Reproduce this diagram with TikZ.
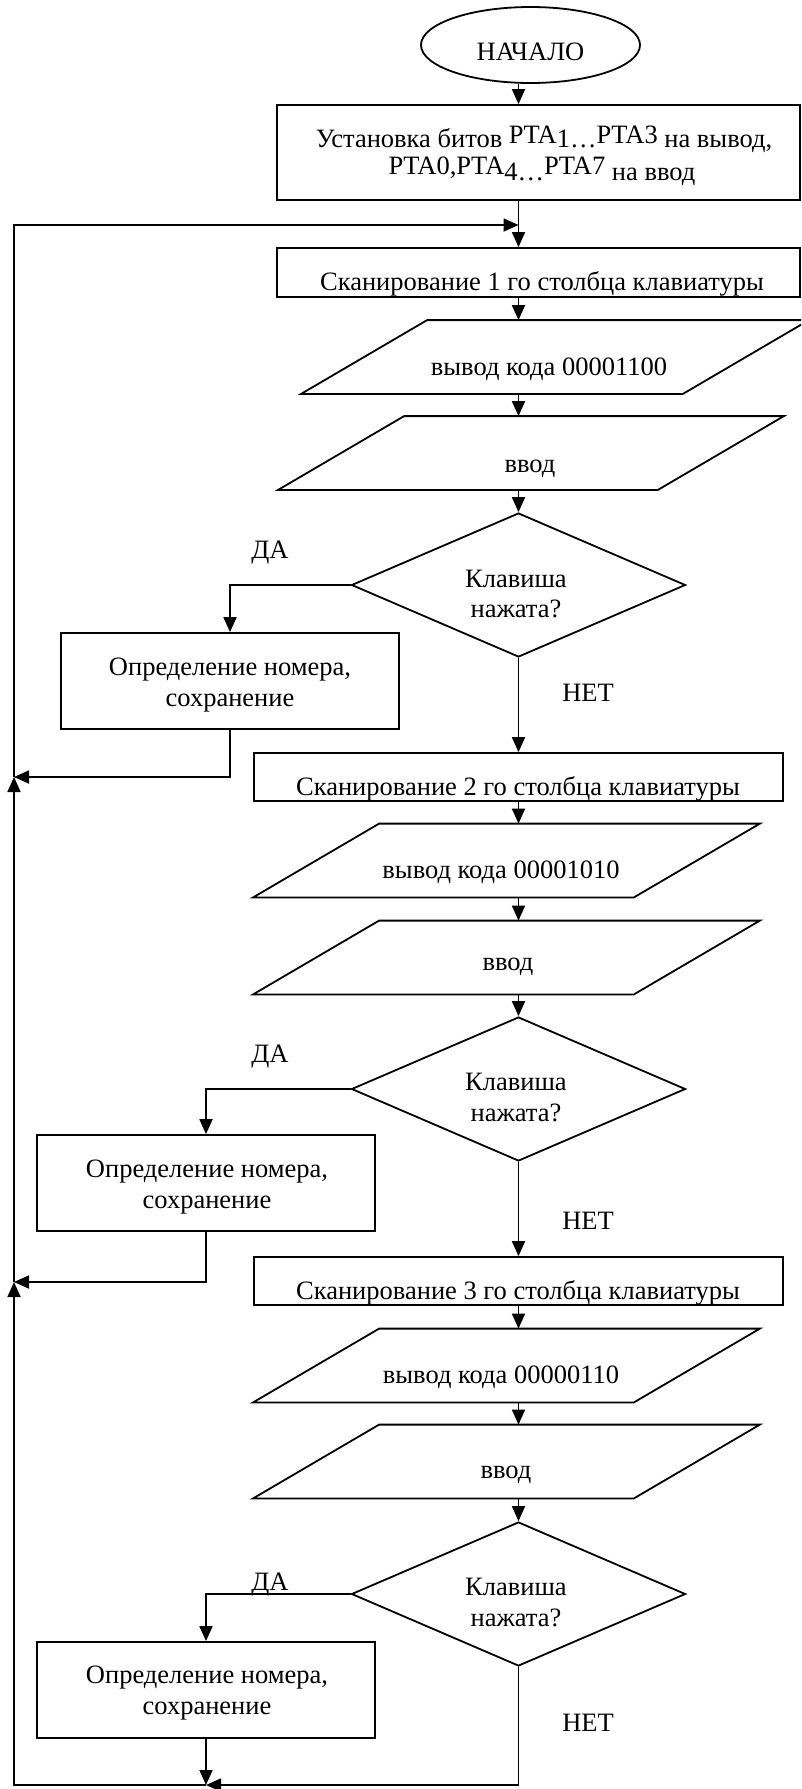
\documentclass[tikz,border=0pt]{standalone}
\usepackage{fontspec}
\setmainfont{Liberation Serif}
\usetikzlibrary{arrows.meta,shapes.geometric,calc}

\begin{document}
\begin{tikzpicture}[x=1pt,y=-1pt,
  line width=1.8pt,
  arr/.style={-{Triangle[length=15pt,width=13pt]}},
  blk/.style={draw, rectangle, inner sep=0pt},
  ell/.style={draw, ellipse, inner sep=0pt, minimum width=219pt, minimum height=76pt},
  dia/.style={draw, diamond, inner sep=0pt, minimum width=334pt, minimum height=144pt},
  io/.style={rectangle, inner sep=0pt, minimum height=72pt},
  txt/.style={anchor=base, inner sep=0pt, font=\fontsize{26.5}{31}\selectfont},
]
% page
\fill[white] (0,0) rectangle (801,1789);
\useasboundingbox (0,0) rectangle (801,1789);
\clip (0,0) rectangle (801,1789);

% main axis of the flow
\coordinate (ax) at (518.5,0);

% shapes
\node[ell] (start) at (530.5,45) {};
\node[blk, minimum width=523pt, minimum height=95pt] (init) at (538.5,152.5) {};
\node[blk, minimum width=523pt, minimum height=49pt] (s1) at (538.5,272.5) {};
\node[io, minimum width=506pt] (p1) at (555,357) {};
\node[io, minimum width=504pt] (p2) at (531,453) {};
\node[dia] (d1) at (518.5,585) {};
\node[blk, minimum width=338pt, minimum height=96pt] (o1) at (230,681) {};
\node[blk, minimum width=529pt, minimum height=48pt] (s2) at (518.5,777) {};
\node[io, minimum width=505pt] (p3) at (506.5,860.5) {};
\node[io, minimum width=505pt] (p4) at (506.5,957.5) {};
\node[dia] (d2) at (518.5,1089) {};
\node[blk, minimum width=338pt, minimum height=96pt] (o2) at (206,1183) {};
\node[blk, minimum width=529pt, minimum height=48pt] (s3) at (518.5,1281) {};
\node[io, minimum width=505pt] (p5) at (506.5,1365.5) {};
\node[io, minimum width=505pt] (p6) at (506.5,1461.5) {};
\node[dia] (d3) at (518.5,1594) {};
\node[blk, minimum width=338pt, minimum height=96pt] (o3) at (206,1690) {};

% input/output parallelograms
\foreach \n in {p1,p2,p3,p4,p5,p6}
  \draw ($(\n.north west)+(126,0)$) -- (\n.north east)
        -- ($(\n.south east)+(-126,0)$) -- (\n.south west) -- cycle;

% texts
\node[txt] (startT) at (530.5,60) {НАЧАЛО};
\node[txt] (initA) at (544,147) {Установка битов \raisebox{4pt}{PTA}1…\raisebox{4pt}{PTA3} на вывод,};
\node[txt] (initB) at (542,180) {\raisebox{6pt}{PTA0,PTA}4…\raisebox{6pt}{PTA7} на ввод};
\node[txt] (s1T) at (542,290) {Сканирование 1 го столбца клавиатуры};
\node[txt] (p1T) at (549,375) {вывод кода 00001100};
\node[txt] (p2T) at (530,472) {ввод};
\node[txt] (d1A) at (516,587) {Клавиша};
\node[txt] (d1B) at (516,617) {нажата?};
\node[txt] (yes1) at (270,558) {ДА};
\node[txt] (o1A) at (230,675) {Определение номера,};
\node[txt] (o1B) at (230,706) {сохранение};
\node[txt] (no1) at (588,701) {НЕТ};
\node[txt] (s2T) at (518,795) {Сканирование 2 го столбца клавиатуры};
\node[txt] (p3T) at (501,878) {вывод кода 00001010};
\node[txt] (p4T) at (508,970) {ввод};
\node[txt] (d2A) at (516,1090) {Клавиша};
\node[txt] (d2B) at (516,1121) {нажата?};
\node[txt] (yes2) at (270,1062) {ДА};
\node[txt] (o2A) at (207,1177) {Определение номера,};
\node[txt] (o2B) at (207,1208) {сохранение};
\node[txt] (no2) at (588,1229) {НЕТ};
\node[txt] (s3T) at (518,1299) {Сканирование 3 го столбца клавиатуры};
\node[txt] (p5T) at (501,1383) {вывод кода 00000110};
\node[txt] (p6T) at (506,1478) {ввод};
\node[txt] (d3A) at (516,1595) {Клавиша};
\node[txt] (d3B) at (516,1626) {нажата?};
\node[txt] (yes3) at (270,1590) {ДА};
\node[txt] (o3A) at (207,1683) {Определение номера,};
\node[txt] (o3B) at (207,1714) {сохранение};
\node[txt] (no3) at (588,1731) {НЕТ};

% junctions of the return path
\coordinate (j0) at (518.5,225);
\coordinate (j1) at (14,777);
\coordinate (j2) at (14,1282);
\coordinate (j3) at (206,1785);

% main flow
\draw[arr] (start.south -| ax) -- (init.north -| ax);
\draw[arr] (init.south -| ax) -- (s1.north -| ax);
\draw[arr] (s1.south -| ax) -- (p1.north -| ax);
\draw[arr] (p1.south -| ax) -- (p2.north -| ax);
\draw[arr] (p2.south -| ax) -- (d1.north);
\draw[arr] (d1.west) -| (o1.north);
\draw[arr] (d1.south) -- (s2.north -| ax);
\draw[arr] (s2.south -| ax) -- (p3.north -| ax);
\draw[arr] (p3.south -| ax) -- (p4.north -| ax);
\draw[arr] (p4.south -| ax) -- (d2.north);
\draw[arr] (d2.west) -| (o2.north);
\draw[arr] (d2.south) -- (s3.north -| ax);
\draw[arr] (s3.south -| ax) -- (p5.north -| ax);
\draw[arr] (p5.south -| ax) -- (p6.north -| ax);
\draw[arr] (p6.south -| ax) -- (d3.north);
\draw[arr] (d3.west) -| (o3.north);

% return path
\draw[arr] (o3.south) -- (j3);
\draw[arr] (d3.south) |- (j3);
\draw[arr] (j3) -| (j2);
\draw[arr] (o2.south) |- (j2);
\draw[arr] (j2) -- (j1);
\draw[arr] (o1.south) |- (j1);
\draw[arr] (j1) |- (j0);
\end{tikzpicture}
\end{document}
